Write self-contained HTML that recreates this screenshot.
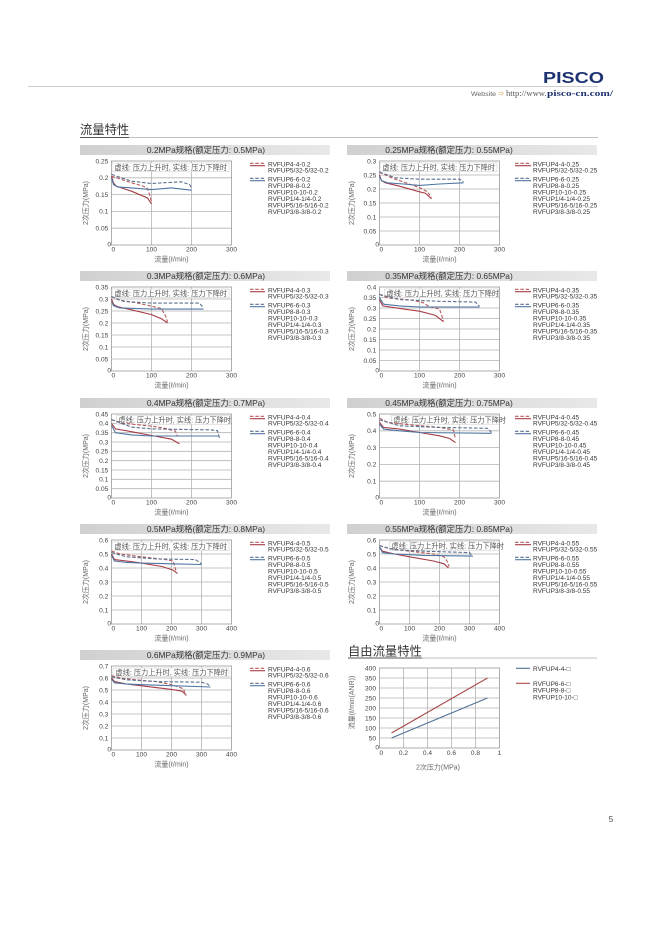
<!DOCTYPE html>
<html><head><meta charset="utf-8">
<style>
html,body{margin:0;padding:0;background:#fff;}
svg{display:block;}
text{font-family:"Liberation Sans","Noto Sans CJK SC",sans-serif;}
.tt{font-size:8.4px;fill:#333;text-anchor:middle;}
.tk{font-size:6.6px;fill:#444;}
.yt{text-anchor:end;}
.xt{text-anchor:middle;}
.lg{font-size:6.5px;fill:#333;}
.al{font-size:7px;fill:#666;text-anchor:middle;}
.bx{font-size:7.2px;fill:#555;}
.grid{stroke:#b4b4b4;stroke-width:0.8;fill:none;}
.fr{stroke:#9a9a9a;stroke-width:0.8;fill:none;}
.rs{stroke:#a63c46;stroke-width:1.1;fill:none;}
.rd{stroke:#b65a5a;stroke-width:1.1;fill:none;stroke-dasharray:3.5 1.8;}
.bs{stroke:#4d76a3;stroke-width:1.1;fill:none;}
.bd{stroke:#5a6f8e;stroke-width:1.1;fill:none;stroke-dasharray:3.5 1.8;}
.box{fill:#fff;stroke:#c8c8c8;stroke-width:0.5;}
</style></head><body>
<svg width="669" height="946" viewBox="0 0 669 946" xmlns="http://www.w3.org/2000/svg">
<defs><linearGradient id="tb" x1="0" x2="1" y1="0" y2="0"><stop offset="0" stop-color="#d0d0d0"/><stop offset="1" stop-color="#e8e8e8"/></linearGradient></defs>

<!-- header -->
<text x="543" y="83" font-weight="bold" font-size="15.3" fill="#1d3270" textLength="61" lengthAdjust="spacingAndGlyphs">PISCO</text>
<line x1="28" y1="86.5" x2="598" y2="86.5" stroke="#bbb" stroke-width="0.8"/>
<text x="471" y="96" font-size="6.5" fill="#666" textLength="25" lengthAdjust="spacingAndGlyphs">Website</text>
<text x="498" y="96" font-size="6" fill="#e0a050">⇒</text>
<text x="506" y="96" font-family="Liberation Serif, serif" font-size="8" fill="#555" textLength="40.5" lengthAdjust="spacingAndGlyphs" style="font-family:'Liberation Serif',serif">http://www.</text>
<text x="547" y="96" font-size="8" font-weight="bold" fill="#1d3270" textLength="66" lengthAdjust="spacingAndGlyphs" style="font-family:'Liberation Serif',serif">pisco-cn.com/</text>

<!-- section heading -->
<text x="80" y="134" font-size="12.3" fill="#333" style="font-family:'Liberation Sans','Noto Sans CJK SC',sans-serif">流量特性</text>
<line x1="80" y1="137.5" x2="598" y2="137.5" stroke="#aaa" stroke-width="0.8"/>
<line x1="80" y1="137.5" x2="129" y2="137.5" stroke="#555" stroke-width="0.9"/>

<!-- Chart A 0.2 -->
<g transform="translate(111.5,161)">
<rect x="-31.5" y="-16" width="250" height="10" fill="url(#tb)"/>
<text class="tt" x="94.5" y="-8">0.2MPa规格(额定压力: 0.5MPa)</text>
<path class="grid" d="M0 16.8H120M0 33.6H120M0 50.4H120M0 67.2H120M40 0V84M80 0V84"/>
<rect class="fr" x="0" y="0" width="120" height="84"/>
<rect class="box" x="0.5" y="2" width="117" height="8.7"/>
<text class="bx" x="3" y="9">虚线: 压力上升时, 实线: 压力下降时</text>
<polyline class="rs" points="0,15.1 2,21.8 4.8,25.2 20,30.2 36,37 40,43"/>
<polyline class="rd" points="0,15.1 20,21.8 32,25.2 36,27.6 38,33.6 40,41"/>
<polyline class="bs" points="0,16.8 2,23.5 6,25.9 20,26.9 40,28.6 60,26.9 80,29.2"/>
<polyline class="bd" points="0,13.4 20,20.2 40,22.5 70,20.8 78,23.5 80,26.9"/>
<g class="tk yt"><text x="-3.2" y="2.3">0.25</text><text x="-3.2" y="19.1">0.2</text><text x="-3.2" y="35.9">0.15</text><text x="-3.2" y="52.7">0.1</text><text x="-3.2" y="69.5">0.05</text><text x="-0.5" y="85.3">0</text></g>
<g class="tk xt"><text x="1.8" y="90.3">0</text><text x="40" y="90.3">100</text><text x="80" y="90.3">200</text><text x="120" y="90.3">300</text></g>
<text class="al" x="60" y="100.5">流量(ℓ/min)</text>
<text class="al" transform="translate(-23.5,42) rotate(-90)">2次压力(MPa)</text>
<line x1="138.5" y1="2.3" x2="153.5" y2="2.3" class="rd"/><line x1="138.5" y1="4.7" x2="153.5" y2="4.7" class="rs"/>
<line x1="138.5" y1="17.3" x2="153.5" y2="17.3" class="bd"/><line x1="138.5" y1="19.7" x2="153.5" y2="19.7" class="bs"/>
<g class="lg"><text x="156.5" y="5.3">RVFUP4-4-0.2</text><text x="156.5" y="11.5">RVFUP5/32-5/32-0.2</text><text x="156.5" y="20.6">RVFUP6-6-0.2</text><text x="156.5" y="27.1">RVFUP8-8-0.2</text><text x="156.5" y="33.6">RVFUP10-10-0.2</text><text x="156.5" y="40.1">RVFUP1/4-1/4-0.2</text><text x="156.5" y="46.6">RVFUP5/16-5/16-0.2</text><text x="156.5" y="53.1">RVFUP3/8-3/8-0.2</text></g>
</g>

<!-- Chart B 0.25 -->
<g transform="translate(379.5,161)">
<rect x="-32.5" y="-16" width="250" height="10" fill="url(#tb)"/>
<text class="tt" x="69.5" y="-8">0.25MPa规格(额定压力: 0.55MPa)</text>
<path class="grid" d="M0 14H120M0 28H120M0 42H120M0 56H120M0 70H120M40 0V84M80 0V84"/>
<rect class="fr" x="0" y="0" width="120" height="84"/>
<rect class="box" x="0.5" y="2" width="117" height="8.7"/>
<text class="bx" x="3" y="9">虚线: 压力上升时, 实线: 压力下降时</text>
<polyline class="rs" points="0,14 2,19.6 6,21.8 20,25.2 40,30.8 46,32.2 52,37.8"/>
<polyline class="rd" points="0,11.2 12,16.8 28,22.4 40,26.6 48,30.8 52,36.4"/>
<polyline class="bs" points="0,15.4 2,19.6 8,21.8 24,23 40,24.4 60,23 84,21.8"/>
<polyline class="bd" points="0,11.2 16,16.8 40,18.2 80,18.2 84,21"/>
<g class="tk yt"><text x="-3.2" y="2.3">0.3</text><text x="-3.2" y="16.3">0.25</text><text x="-3.2" y="30.3">0.2</text><text x="-3.2" y="44.3">0.15</text><text x="-3.2" y="58.3">0.1</text><text x="-3.2" y="72.3">0.05</text><text x="-0.5" y="85.3">0</text></g>
<g class="tk xt"><text x="1.8" y="90.3">0</text><text x="40" y="90.3">100</text><text x="80" y="90.3">200</text><text x="120" y="90.3">300</text></g>
<text class="al" x="60" y="100.5">流量(ℓ/min)</text>
<text class="al" transform="translate(-25.3,42) rotate(-90)">2次压力(MPa)</text>
<line x1="135.5" y1="2.3" x2="151.5" y2="2.3" class="rd"/><line x1="135.5" y1="4.7" x2="151.5" y2="4.7" class="rs"/>
<line x1="135.5" y1="17.3" x2="151.5" y2="17.3" class="bd"/><line x1="135.5" y1="19.7" x2="151.5" y2="19.7" class="bs"/>
<g class="lg"><text x="153.5" y="5.3">RVFUP4-4-0.25</text><text x="153.5" y="11.5">RVFUP5/32-5/32-0.25</text><text x="153.5" y="20.6">RVFUP6-6-0.25</text><text x="153.5" y="27.1">RVFUP8-8-0.25</text><text x="153.5" y="33.6">RVFUP10-10-0.25</text><text x="153.5" y="40.1">RVFUP1/4-1/4-0.25</text><text x="153.5" y="46.6">RVFUP5/16-5/16-0.25</text><text x="153.5" y="53.1">RVFUP3/8-3/8-0.25</text></g>
</g>

<!-- Chart C 0.3 -->
<g transform="translate(111.5,287)">
<rect x="-31.5" y="-16" width="250" height="10" fill="url(#tb)"/>
<text class="tt" x="94.5" y="-8">0.3MPa规格(额定压力: 0.6MPa)</text>
<path class="grid" d="M0 12H120M0 24H120M0 36H120M0 48H120M0 60H120M0 72H120M40 0V84M80 0V84"/>
<rect class="fr" x="0" y="0" width="120" height="84"/>
<rect class="box" x="0.5" y="2" width="117" height="8.7"/>
<text class="bx" x="3" y="9">虚线: 压力上升时, 实线: 压力下降时</text>
<polyline class="rs" points="0,12 2,17.3 6,19.7 20,22.8 40,27.6 50,31.7 56,36"/>
<polyline class="rd" points="0,9.6 8,13.2 24,15.6 40,19.2 50,21.6 54,28.8 56,34.8"/>
<polyline class="bs" points="0,14.4 2,18.7 8,20.9 40,22.1 92,22.1"/>
<polyline class="bd" points="0,9.6 12,14.4 40,16.1 88,16.1 92,21.1"/>
<g class="tk yt"><text x="-3.2" y="2.3">0.35</text><text x="-3.2" y="14.3">0.3</text><text x="-3.2" y="26.3">0.25</text><text x="-3.2" y="38.3">0.2</text><text x="-3.2" y="50.3">0.15</text><text x="-3.2" y="62.3">0.1</text><text x="-3.2" y="74.3">0.05</text><text x="-0.5" y="85.3">0</text></g>
<g class="tk xt"><text x="1.8" y="90.3">0</text><text x="40" y="90.3">100</text><text x="80" y="90.3">200</text><text x="120" y="90.3">300</text></g>
<text class="al" x="60" y="100.5">流量(ℓ/min)</text>
<text class="al" transform="translate(-23.5,42) rotate(-90)">2次压力(MPa)</text>
<line x1="138.5" y1="2.3" x2="153.5" y2="2.3" class="rd"/><line x1="138.5" y1="4.7" x2="153.5" y2="4.7" class="rs"/>
<line x1="138.5" y1="17.3" x2="153.5" y2="17.3" class="bd"/><line x1="138.5" y1="19.7" x2="153.5" y2="19.7" class="bs"/>
<g class="lg"><text x="156.5" y="5.3">RVFUP4-4-0.3</text><text x="156.5" y="11.5">RVFUP5/32-5/32-0.3</text><text x="156.5" y="20.6">RVFUP6-6-0.3</text><text x="156.5" y="27.1">RVFUP8-8-0.3</text><text x="156.5" y="33.6">RVFUP10-10-0.3</text><text x="156.5" y="40.1">RVFUP1/4-1/4-0.3</text><text x="156.5" y="46.6">RVFUP5/16-5/16-0.3</text><text x="156.5" y="53.1">RVFUP3/8-3/8-0.3</text></g>
</g>

<!-- Chart D 0.35 -->
<g transform="translate(379.5,287)">
<rect x="-32.5" y="-16" width="250" height="10" fill="url(#tb)"/>
<text class="tt" x="69.5" y="-8">0.35MPa规格(额定压力: 0.65MPa)</text>
<path class="grid" d="M0 10.5H120M0 21H120M0 31.5H120M0 42H120M0 52.5H120M0 63H120M0 73.5H120M40 0V84M80 0V84"/>
<rect class="fr" x="0" y="0" width="120" height="84"/>
<rect class="box" x="5" y="2" width="114" height="8.7"/>
<text class="bx" x="7" y="9">虚线: 压力上升时, 实线: 压力下降时</text>
<polyline class="rs" points="0,12.6 3.2,18.9 20,21.4 40,24.2 56,28.4 64,34.7"/>
<polyline class="rd" points="0,7.4 8,10.9 32,13 44,15.8 50,19.9 60,22 64,33.6"/>
<polyline class="bs" points="0,10.5 4,17.2 20,18.9 40,20 100,20"/>
<polyline class="bd" points="0,7.4 20,12.6 60,14.3 96,15.1 100,19.3"/>
<g class="tk yt"><text x="-3.2" y="2.3">0.4</text><text x="-3.2" y="12.8">0.35</text><text x="-3.2" y="23.3">0.3</text><text x="-3.2" y="33.8">0.25</text><text x="-3.2" y="44.3">0.2</text><text x="-3.2" y="54.8">0.15</text><text x="-3.2" y="65.3">0.1</text><text x="-3.2" y="75.8">0.05</text><text x="-0.5" y="85.3">0</text></g>
<g class="tk xt"><text x="1.8" y="90.3">0</text><text x="40" y="90.3">100</text><text x="80" y="90.3">200</text><text x="120" y="90.3">300</text></g>
<text class="al" x="60" y="100.5">流量(ℓ/min)</text>
<text class="al" transform="translate(-25.3,42) rotate(-90)">2次压力(MPa)</text>
<line x1="135.5" y1="2.3" x2="151.5" y2="2.3" class="rd"/><line x1="135.5" y1="4.7" x2="151.5" y2="4.7" class="rs"/>
<line x1="135.5" y1="17.3" x2="151.5" y2="17.3" class="bd"/><line x1="135.5" y1="19.7" x2="151.5" y2="19.7" class="bs"/>
<g class="lg"><text x="153.5" y="5.3">RVFUP4-4-0.35</text><text x="153.5" y="11.5">RVFUP5/32-5/32-0.35</text><text x="153.5" y="20.6">RVFUP6-6-0.35</text><text x="153.5" y="27.1">RVFUP8-8-0.35</text><text x="153.5" y="33.6">RVFUP10-10-0.35</text><text x="153.5" y="40.1">RVFUP1/4-1/4-0.35</text><text x="153.5" y="46.6">RVFUP5/16-5/16-0.35</text><text x="153.5" y="53.1">RVFUP3/8-3/8-0.35</text></g>
</g>

<!-- Chart E 0.4 -->
<g transform="translate(111.5,414)">
<rect x="-31.5" y="-16" width="250" height="10" fill="url(#tb)"/>
<text class="tt" x="94.5" y="-8">0.4MPa规格(额定压力: 0.7MPa)</text>
<path class="grid" d="M0 9.33H120M0 18.67H120M0 28H120M0 37.33H120M0 46.67H120M0 56H120M0 65.33H120M0 74.67H120M40 0V84M80 0V84"/>
<rect class="fr" x="0" y="0" width="120" height="84"/>
<rect class="box" x="5" y="1.5" width="114" height="8.7"/>
<text class="bx" x="7" y="8.5">虚线: 压力上升时, 实线: 压力下降时</text>
<polyline class="rs" points="0,9.3 4,14.9 20,17.7 40,21.5 60,25.2 68,29.9"/>
<polyline class="rd" points="0,5.6 12,9.3 40,12.1 52,14 64,17.2 66,22.4"/>
<polyline class="bs" points="0,11.2 4,18.7 20,20.9 40,22 108,22"/>
<polyline class="bd" points="0,5.6 20,13.1 40,14.9 100,15.9 106,16.8 108,23.9"/>
<g class="tk yt"><text x="-3.2" y="2.3">0.45</text><text x="-3.2" y="11.6">0.4</text><text x="-3.2" y="21">0.35</text><text x="-3.2" y="30.3">0.3</text><text x="-3.2" y="39.6">0.25</text><text x="-3.2" y="49">0.2</text><text x="-3.2" y="58.3">0.15</text><text x="-3.2" y="67.6">0.1</text><text x="-3.2" y="77">0.05</text><text x="-0.5" y="85.3">0</text></g>
<g class="tk xt"><text x="1.8" y="90.3">0</text><text x="40" y="90.3">100</text><text x="80" y="90.3">200</text><text x="120" y="90.3">300</text></g>
<text class="al" x="60" y="100.5">流量(ℓ/min)</text>
<text class="al" transform="translate(-23.5,42) rotate(-90)">2次压力(MPa)</text>
<line x1="138.5" y1="2.3" x2="153.5" y2="2.3" class="rd"/><line x1="138.5" y1="4.7" x2="153.5" y2="4.7" class="rs"/>
<line x1="138.5" y1="17.3" x2="153.5" y2="17.3" class="bd"/><line x1="138.5" y1="19.7" x2="153.5" y2="19.7" class="bs"/>
<g class="lg"><text x="156.5" y="5.3">RVFUP4-4-0.4</text><text x="156.5" y="11.5">RVFUP5/32-5/32-0.4</text><text x="156.5" y="20.6">RVFUP6-6-0.4</text><text x="156.5" y="27.1">RVFUP8-8-0.4</text><text x="156.5" y="33.6">RVFUP10-10-0.4</text><text x="156.5" y="40.1">RVFUP1/4-1/4-0.4</text><text x="156.5" y="46.6">RVFUP5/16-5/16-0.4</text><text x="156.5" y="53.1">RVFUP3/8-3/8-0.4</text></g>
</g>

<!-- Chart F 0.45 -->
<g transform="translate(379.5,414)">
<rect x="-32.5" y="-16" width="250" height="10" fill="url(#tb)"/>
<text class="tt" x="69.5" y="-8">0.45MPa规格(额定压力: 0.75MPa)</text>
<path class="grid" d="M0 16.8H120M0 33.6H120M0 50.4H120M0 67.2H120M40 0V84M80 0V84"/>
<rect class="fr" x="0" y="0" width="120" height="84"/>
<rect x="12" y="1.5" width="107.5" height="8.7" fill="#fff" fill-opacity="0.7" stroke="#c8c8c8" stroke-width="0.5"/>
<text class="bx" x="14" y="8.5">虚线: 压力上升时, 实线: 压力下降时</text>
<polyline class="rs" points="0,8.4 4,13.4 20,15.1 40,18.5 60,21.8 70,24.4 76,28.6"/>
<polyline class="rd" points="0,4.2 8,8.4 32,10.9 60,13.4 74,16 76,25.2"/>
<polyline class="bs" points="0,10.1 4,15.1 20,16.8 40,18.5 112,19.3"/>
<polyline class="bd" points="0,5.9 20,11.8 60,13.4 108,14.3 112,18.5"/>
<g class="tk yt"><text x="-3.2" y="2.3">0.5</text><text x="-3.2" y="19.1">0.4</text><text x="-3.2" y="35.9">0.3</text><text x="-3.2" y="52.7">0.2</text><text x="-3.2" y="69.5">0.1</text><text x="-0.5" y="85.3">0</text></g>
<g class="tk xt"><text x="1.8" y="90.3">0</text><text x="40" y="90.3">100</text><text x="80" y="90.3">200</text><text x="120" y="90.3">300</text></g>
<text class="al" x="60" y="100.5">流量(ℓ/min)</text>
<text class="al" transform="translate(-25.3,42) rotate(-90)">2次压力(MPa)</text>
<line x1="135.5" y1="2.3" x2="151.5" y2="2.3" class="rd"/><line x1="135.5" y1="4.7" x2="151.5" y2="4.7" class="rs"/>
<line x1="135.5" y1="17.3" x2="151.5" y2="17.3" class="bd"/><line x1="135.5" y1="19.7" x2="151.5" y2="19.7" class="bs"/>
<g class="lg"><text x="153.5" y="5.3">RVFUP4-4-0.45</text><text x="153.5" y="11.5">RVFUP5/32-5/32-0.45</text><text x="153.5" y="20.6">RVFUP6-6-0.45</text><text x="153.5" y="27.1">RVFUP8-8-0.45</text><text x="153.5" y="33.6">RVFUP10-10-0.45</text><text x="153.5" y="40.1">RVFUP1/4-1/4-0.45</text><text x="153.5" y="46.6">RVFUP5/16-5/16-0.45</text><text x="153.5" y="53.1">RVFUP3/8-3/8-0.45</text></g>
</g>

<!-- Chart G 0.5 -->
<g transform="translate(111.5,540)">
<rect x="-31.5" y="-16" width="250" height="10" fill="url(#tb)"/>
<text class="tt" x="94.5" y="-8">0.5MPa规格(额定压力: 0.8MPa)</text>
<path class="grid" d="M0 14H120M0 28H120M0 42H120M0 56H120M0 70H120M30 0V84M60 0V84M90 0V84"/>
<rect class="fr" x="0" y="0" width="120" height="84"/>
<rect class="box" x="0.5" y="2" width="117" height="8.7"/>
<text class="bx" x="3" y="9">虚线: 压力上升时, 实线: 压力下降时</text>
<polyline class="rs" points="0,14 3,19.6 15,21 30,23.1 51,26.6 61.5,30.1 66,33.6"/>
<polyline class="rd" points="0,11.2 9,14 30,16.8 54,19.6 61.5,21 64.5,30.8"/>
<polyline class="bs" points="0,15.4 3,21 15,22.4 30,23.1 60,23.8 90,24.5"/>
<polyline class="bd" points="0,12.6 15,16.8 45,18.9 84,19.6 90,23.8"/>
<g class="tk yt"><text x="-3.2" y="2.3">0.6</text><text x="-3.2" y="16.3">0.5</text><text x="-3.2" y="30.3">0.4</text><text x="-3.2" y="44.3">0.3</text><text x="-3.2" y="58.3">0.2</text><text x="-3.2" y="72.3">0.1</text><text x="-0.5" y="85.3">0</text></g>
<g class="tk xt"><text x="1.8" y="90.3">0</text><text x="30" y="90.3">100</text><text x="60" y="90.3">200</text><text x="90" y="90.3">300</text><text x="120" y="90.3">400</text></g>
<text class="al" x="60" y="100.5">流量(ℓ/min)</text>
<text class="al" transform="translate(-23.5,42) rotate(-90)">2次压力(MPa)</text>
<line x1="138.5" y1="2.3" x2="153.5" y2="2.3" class="rd"/><line x1="138.5" y1="4.7" x2="153.5" y2="4.7" class="rs"/>
<line x1="138.5" y1="17.3" x2="153.5" y2="17.3" class="bd"/><line x1="138.5" y1="19.7" x2="153.5" y2="19.7" class="bs"/>
<g class="lg"><text x="156.5" y="5.3">RVFUP4-4-0.5</text><text x="156.5" y="11.5">RVFUP5/32-5/32-0.5</text><text x="156.5" y="20.6">RVFUP6-6-0.5</text><text x="156.5" y="27.1">RVFUP8-8-0.5</text><text x="156.5" y="33.6">RVFUP10-10-0.5</text><text x="156.5" y="40.1">RVFUP1/4-1/4-0.5</text><text x="156.5" y="46.6">RVFUP5/16-5/16-0.5</text><text x="156.5" y="53.1">RVFUP3/8-3/8-0.5</text></g>
</g>

<!-- Chart H 0.55 -->
<g transform="translate(379.5,540)">
<rect x="-32.5" y="-16" width="250" height="10" fill="url(#tb)"/>
<text class="tt" x="69.5" y="-8">0.55MPa规格(额定压力: 0.85MPa)</text>
<path class="grid" d="M0 14H120M0 28H120M0 42H120M0 56H120M0 70H120M30 0V84M60 0V84M90 0V84"/>
<rect class="fr" x="0" y="0" width="120" height="84"/>
<rect x="10" y="1.5" width="109.5" height="8.7" fill="#fff" fill-opacity="0.7" stroke="#c8c8c8" stroke-width="0.5"/>
<text class="bx" x="12" y="8.5">虚线: 压力上升时, 实线: 压力下降时</text>
<polyline class="rs" points="0,7 3,11.2 15,14 30,16.8 54,21 64.5,23.8 69,28"/>
<polyline class="rd" points="0,5.6 9,8.4 30,11.2 54,14 64.5,16.8 67.5,21 69.6,26.6"/>
<polyline class="bs" points="0,7 3,12.6 15,14 45,15.4 93,16.1"/>
<polyline class="bd" points="0,5.6 15,9.8 45,11.2 90,12.6 93,16.8"/>
<g class="tk yt"><text x="-3.2" y="2.3">0.6</text><text x="-3.2" y="16.3">0.5</text><text x="-3.2" y="30.3">0.4</text><text x="-3.2" y="44.3">0.3</text><text x="-3.2" y="58.3">0.2</text><text x="-3.2" y="72.3">0.1</text><text x="-0.5" y="85.3">0</text></g>
<g class="tk xt"><text x="1.8" y="90.3">0</text><text x="30" y="90.3">100</text><text x="60" y="90.3">200</text><text x="90" y="90.3">300</text><text x="120" y="90.3">400</text></g>
<text class="al" x="60" y="100.5">流量(ℓ/min)</text>
<text class="al" transform="translate(-25.3,42) rotate(-90)">2次压力(MPa)</text>
<line x1="135.5" y1="2.3" x2="151.5" y2="2.3" class="rd"/><line x1="135.5" y1="4.7" x2="151.5" y2="4.7" class="rs"/>
<line x1="135.5" y1="17.3" x2="151.5" y2="17.3" class="bd"/><line x1="135.5" y1="19.7" x2="151.5" y2="19.7" class="bs"/>
<g class="lg"><text x="153.5" y="5.3">RVFUP4-4-0.55</text><text x="153.5" y="11.5">RVFUP5/32-5/32-0.55</text><text x="153.5" y="20.6">RVFUP6-6-0.55</text><text x="153.5" y="27.1">RVFUP8-8-0.55</text><text x="153.5" y="33.6">RVFUP10-10-0.55</text><text x="153.5" y="40.1">RVFUP1/4-1/4-0.55</text><text x="153.5" y="46.6">RVFUP5/16-5/16-0.55</text><text x="153.5" y="53.1">RVFUP3/8-3/8-0.55</text></g>
</g>

<!-- Chart I 0.6 -->
<g transform="translate(111.5,666)">
<rect x="-31.5" y="-16" width="250" height="10" fill="url(#tb)"/>
<text class="tt" x="94.5" y="-8">0.6MPa规格(额定压力: 0.9MPa)</text>
<path class="grid" d="M0 12H120M0 24H120M0 36H120M0 48H120M0 60H120M0 72H120M30 0V84M60 0V84M90 0V84"/>
<rect class="fr" x="0" y="0" width="120" height="84"/>
<rect class="box" x="1.5" y="2" width="116" height="8.7"/>
<text class="bx" x="4" y="9">虚线: 压力上升时, 实线: 压力下降时</text>
<polyline class="rs" points="0,12 3,15.6 15,18 30,19.8 60,23.4 70.5,25.2 75,29.4"/>
<polyline class="rd" points="0,9.6 9,12 30,14.4 45,15.6 60,18.6 72,22.8 73.5,27.6"/>
<polyline class="bs" points="0,13.2 3,16.8 15,18 45,19.2 99,21"/>
<polyline class="bd" points="0,10.8 15,13.8 45,15.6 90,16.2 96,18 99,20.4"/>
<g class="tk yt"><text x="-3.2" y="2.3">0.7</text><text x="-3.2" y="14.3">0.6</text><text x="-3.2" y="26.3">0.5</text><text x="-3.2" y="38.3">0.4</text><text x="-3.2" y="50.3">0.3</text><text x="-3.2" y="62.3">0.2</text><text x="-3.2" y="74.3">0.1</text><text x="-0.5" y="85.3">0</text></g>
<g class="tk xt"><text x="1.8" y="90.3">0</text><text x="30" y="90.3">100</text><text x="60" y="90.3">200</text><text x="90" y="90.3">300</text><text x="120" y="90.3">400</text></g>
<text class="al" x="60" y="100.5">流量(ℓ/min)</text>
<text class="al" transform="translate(-23.5,42) rotate(-90)">2次压力(MPa)</text>
<line x1="138.5" y1="2.3" x2="153.5" y2="2.3" class="rd"/><line x1="138.5" y1="4.7" x2="153.5" y2="4.7" class="rs"/>
<line x1="138.5" y1="17.3" x2="153.5" y2="17.3" class="bd"/><line x1="138.5" y1="19.7" x2="153.5" y2="19.7" class="bs"/>
<g class="lg"><text x="156.5" y="5.3">RVFUP4-4-0.6</text><text x="156.5" y="11.5">RVFUP5/32-5/32-0.6</text><text x="156.5" y="20.6">RVFUP6-6-0.6</text><text x="156.5" y="27.1">RVFUP8-8-0.6</text><text x="156.5" y="33.6">RVFUP10-10-0.6</text><text x="156.5" y="40.1">RVFUP1/4-1/4-0.6</text><text x="156.5" y="46.6">RVFUP5/16-5/16-0.6</text><text x="156.5" y="53.1">RVFUP3/8-3/8-0.6</text></g>
</g>

<!-- Free flow -->
<text x="348" y="655.5" font-size="12.3" fill="#333">自由流量特性</text>
<line x1="348" y1="658" x2="597" y2="658" stroke="#aaa" stroke-width="0.8"/>
<line x1="348" y1="658" x2="422" y2="658" stroke="#555" stroke-width="0.9"/>
<g transform="translate(379.5,668)">
<path class="grid" d="M0 10H120M0 20H120M0 30H120M0 40H120M0 50H120M0 60H120M0 70H120M24 0V80M48 0V80M72 0V80M96 0V80"/>
<rect class="fr" x="0" y="0" width="120" height="80"/>
<line x1="12" y1="70" x2="108" y2="30" stroke="#4f6f95" stroke-width="1.1"/>
<line x1="12" y1="65" x2="108" y2="10" stroke="#a84a4a" stroke-width="1.1"/>
<g class="tk yt"><text x="-3.5" y="2.3">400</text><text x="-3.5" y="12.3">350</text><text x="-3.5" y="22.3">300</text><text x="-3.5" y="32.3">250</text><text x="-3.5" y="42.3">200</text><text x="-3.5" y="52.3">150</text><text x="-3.5" y="62.3">100</text><text x="-3.5" y="72.3">50</text><text x="-0.5" y="81.3">0</text></g>
<g class="tk xt"><text x="1.8" y="87.2">0</text><text x="24" y="87.2">0.2</text><text x="48" y="87.2">0.4</text><text x="72" y="87.2">0.6</text><text x="96" y="87.2">0.8</text><text x="120" y="87.2">1</text></g>
<text class="al" x="58.5" y="101.5">2次压力(MPa)</text>
<text class="al" transform="translate(-25.3,34.5) rotate(-90)">流量(ℓ/min(ANR))</text>
<line x1="136.5" y1="0.3" x2="150.5" y2="0.3" stroke="#4f6f95" stroke-width="1.1"/>
<line x1="136.5" y1="15.3" x2="150.5" y2="15.3" stroke="#a84a4a" stroke-width="1.1"/>
<g class="lg"><text x="153.5" y="2.8">RVFUP4-4-□</text><text x="153.5" y="17.8">RVFUP6-6-□</text><text x="153.5" y="24.6">RVFUP8-8-□</text><text x="153.5" y="31.4">RVFUP10-10-□</text></g>
</g>

<!-- page number -->
<text x="611" y="822" font-size="8" fill="#444" text-anchor="middle">5</text>
</svg>
</body></html>
